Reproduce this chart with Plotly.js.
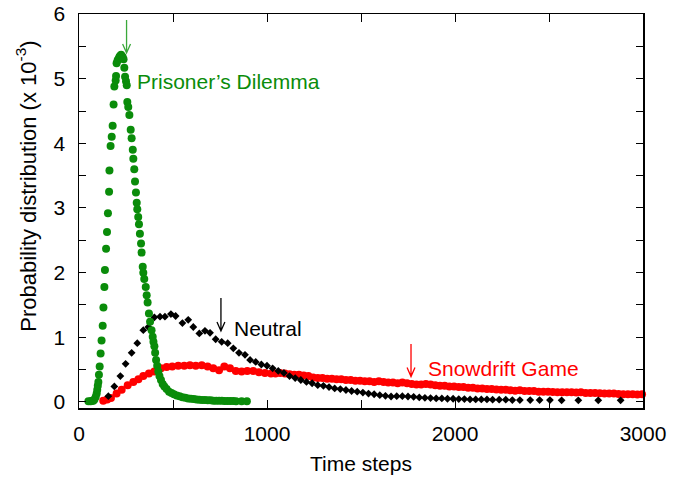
<!DOCTYPE html>
<html><head><meta charset="utf-8">
<script src="https://cdn.plot.ly/plotly-3.0.1.min.js"></script>
<style>html,body{margin:0;padding:0;background:#fff}#chart{width:682px;height:483px}</style>
</head><body><div id="chart"></div>
<script>
// Prisoner's Dilemma (green circles)
const pdX = [50,62,70,76,82,89,94,97,100,103,106,110,115,120,126,130,135,138,144,149,154,160,162,168,174,179,184,188,195,197,200,205,209,214,218,224,232,237,241,245,250,254,257,262,268,275,280,286,289,294,298,303,307,310,315,319,324,330,333,339,342,347,355,360,365,372,378,386,392,396,401,405,410,416,422,428,436,445,454,466,479,492,505,520,535,550,565,580,595,610,625,640,655,670,685,700,715,730,745,760,775,790,805,820,835,865,893];
const pdY = [0.01,0.01,0.02,0.02,0.04,0.08,0.13,0.19,0.25,0.31,0.42,0.55,0.75,0.95,1.18,1.46,1.78,2.04,2.37,2.63,2.92,3.25,3.58,3.96,4.10,4.27,4.60,4.88,4.97,5.04,5.24,5.28,5.30,5.33,5.35,5.37,5.34,5.30,5.17,5.03,4.96,4.90,4.64,4.56,4.44,4.21,4.08,3.90,3.76,3.60,3.41,3.24,3.08,2.98,2.86,2.75,2.60,2.45,2.31,2.09,2.00,1.90,1.78,1.65,1.54,1.37,1.24,1.11,1.01,0.93,0.86,0.76,0.65,0.56,0.47,0.40,0.34,0.28,0.24,0.20,0.16,0.14,0.12,0.10,0.09,0.075,0.065,0.055,0.05,0.045,0.04,0.035,0.03,0.03,0.025,0.025,0.02,0.02,0.02,0.02,0.015,0.015,0.015,0.015,0.01,0.01,0.01];

// Neutral (black diamonds)
const neX = [156,188,220,248,280,310,342,369,401,431,457,489,514,550,581,608,640,670,697,727,759,791,821,851,883,910,940,970,1000,1030,1060,1090,1120,1150,1180,1210,1240,1270,1300,1330,1360,1390,1420,1450,1480,1510,1540,1570,1600,1630,1660,1690,1720,1750,1780,1810,1840,1870,1900,1930,1960,1990,2020,2050,2080,2110,2140,2170,2200,2235,2270,2305,2345,2400,2450,2505,2567,2656,2762,2881];
const neY = [0.09,0.24,0.40,0.59,0.76,0.91,1.11,1.16,1.31,1.32,1.32,1.36,1.33,1.22,1.27,1.16,1.06,1.10,1.07,0.97,0.93,0.91,0.83,0.76,0.73,0.65,0.62,0.58,0.56,0.52,0.48,0.45,0.40,0.37,0.34,0.31,0.29,0.26,0.25,0.23,0.21,0.20,0.185,0.17,0.16,0.145,0.13,0.12,0.105,0.095,0.085,0.09,0.09,0.085,0.08,0.07,0.065,0.06,0.055,0.055,0.05,0.05,0.045,0.045,0.04,0.04,0.04,0.04,0.035,0.035,0.035,0.03,0.03,0.03,0.03,0.03,0.025,0.025,0.025,0.025];

// Snowdrift Game (red circles)
const sdX = [129,150,170,200,227,259,289,316,342,372,401,436,466,496,528,560,590,621,653,684,714,745,773,803,834,865,895,927,957,989,1021,1045,1070,1095,1120,1145,1170,1195,1220,1245,1270,1295,1320,1345,1370,1395,1420,1445,1470,1495,1520,1545,1570,1595,1620,1645,1670,1695,1720,1745,1770,1795,1820,1845,1870,1895,1920,1945,1970,1995,2020,2045,2070,2095,2120,2145,2170,2195,2220,2245,2270,2295,2320,2345,2370,2395,2420,2445,2470,2495,2520,2545,2570,2595,2620,2645,2670,2695,2720,2745,2770,2795,2820,2845,2870,2895,2920,2945,2970,2995];
const sdY = [0.02,0.04,0.06,0.13,0.19,0.26,0.31,0.35,0.40,0.44,0.47,0.52,0.54,0.55,0.56,0.56,0.57,0.56,0.57,0.55,0.52,0.49,0.55,0.52,0.48,0.47,0.48,0.48,0.46,0.45,0.44,0.44,0.45,0.44,0.43,0.42,0.42,0.41,0.40,0.38,0.37,0.37,0.36,0.36,0.35,0.35,0.34,0.34,0.33,0.33,0.32,0.32,0.31,0.32,0.31,0.30,0.30,0.29,0.30,0.29,0.28,0.27,0.27,0.28,0.27,0.26,0.25,0.25,0.24,0.24,0.23,0.23,0.22,0.22,0.21,0.21,0.20,0.20,0.195,0.19,0.19,0.18,0.175,0.18,0.17,0.17,0.17,0.16,0.16,0.16,0.155,0.15,0.15,0.15,0.15,0.145,0.15,0.14,0.14,0.14,0.135,0.13,0.13,0.13,0.125,0.12,0.12,0.12,0.115,0.12];

const xTickVals = [0,1000,2000,3000];
const xTickText = ['0','1000','2000','3000'];
const xMinorVals = [500,1500,2500];
const yTickVals = [0,1,2,3,4,5,6];
const yTickText = ['0','1','2','3','4','5','6'];
const yMinorVals = [0.5,1.5,2.5,3.5,4.5,5.5];

const GREEN = '#0a8c0a', RED = '#ff0000', BLACK = '#000000';
const FONT = 'Liberation Sans, Arial, Helvetica, sans-serif';

const traces = [
  {x: sdX, y: sdY, type: 'scatter', mode: 'markers', name: 'Snowdrift Game',
   marker: {symbol: 'circle', size: 8, color: RED}, cliponaxis: false},
  {x: neX, y: neY, type: 'scatter', mode: 'markers', name: 'Neutral',
   marker: {symbol: 'diamond', size: 6, color: BLACK}, cliponaxis: false},
  {x: pdX, y: pdY, type: 'scatter', mode: 'markers', name: "Prisoner's Dilemma",
   marker: {symbol: 'circle', size: 8, color: GREEN}, cliponaxis: false}
];

function arrowPath(x, yTop, yTip, dx, dy) {
  return 'M' + x + ',' + yTop + ' L' + x + ',' + yTip +
         ' M' + (x - dx) + ',' + (yTip + dy) + ' L' + x + ',' + yTip + ' L' + (x + dx) + ',' + (yTip + dy);
}
const DX = 21, DY = 0.14;

const layout = {
  width: 682, height: 483,
  margin: {l: 79, r: 39, t: 14, b: 75},
  paper_bgcolor: '#fff', plot_bgcolor: '#fff',
  showlegend: false,
  font: {family: FONT, size: 21, color: '#000'},
  xaxis: {
    range: [0, 3000], tickmode: 'array', tickvals: xTickVals, ticktext: xTickText,
    ticks: 'inside', ticklen: 8, tickwidth: 1, tickcolor: '#000',
    minor: {tickmode: 'array', tickvals: xMinorVals, ticks: 'inside', ticklen: 8, tickwidth: 1, tickcolor: '#000', showgrid: false},
    showline: true, linewidth: 1.5, linecolor: '#000', mirror: 'allticks',
    showgrid: false, zeroline: false, ticklabelstandoff: 6,
    tickfont: {family: FONT, size: 21},
    title: {text: 'Time steps', font: {family: FONT, size: 21}, standoff: 12}
  },
  yaxis: {
    range: [-0.093, 6], tickmode: 'array', tickvals: yTickVals, ticktext: yTickText,
    ticks: 'inside', ticklen: 7, tickwidth: 1, tickcolor: '#000',
    minor: {tickmode: 'array', tickvals: yMinorVals, ticks: 'inside', ticklen: 7, tickwidth: 1, tickcolor: '#000', showgrid: false},
    showline: true, linewidth: 1.5, linecolor: '#000', mirror: 'allticks',
    showgrid: false, zeroline: false, ticklabelstandoff: 8,
    tickfont: {family: FONT, size: 21}
  },
  shapes: [
    {type: 'path', xref: 'x', yref: 'y', path: arrowPath(253, 5.907, 5.397, DX, DY), line: {color: '#3aa83a', width: 1.3}},
    {type: 'path', xref: 'x', yref: 'y', path: arrowPath(755, 1.608, 1.098, DX, DY), line: {color: BLACK, width: 1.3}},
    {type: 'path', xref: 'x', yref: 'y', path: arrowPath(1766, 0.897, 0.394, DX, DY), line: {color: RED, width: 1.3}}
  ],
  annotations: [
    {text: 'Prisoner\u2019s Dilemma', x: 298, y: 4.95, xref: 'x', yref: 'y', xanchor: 'left', yanchor: 'middle',
     showarrow: false, font: {family: FONT, size: 21, color: GREEN}},
    {text: 'Neutral', x: 814, y: 1.144, xref: 'x', yref: 'y', xanchor: 'left', yanchor: 'middle',
     showarrow: false, font: {family: FONT, size: 21, color: BLACK}},
    {text: 'Snowdrift Game', x: 1846, y: 0.518, xref: 'x', yref: 'y', xanchor: 'left', yanchor: 'middle',
     showarrow: false, font: {family: FONT, size: 21, color: RED}},
    {text: 'Probability distribution (x 10<sup>-3</sup>)', textangle: -90,
     x: -0.093, y: 0.563, xref: 'paper', yref: 'paper', xanchor: 'center', yanchor: 'middle',
     showarrow: false, font: {family: FONT, size: 22, color: BLACK}}
  ]
};

Plotly.newPlot('chart', traces, layout, {displayModeBar: false, staticPlot: true});
</script>
</body></html>
